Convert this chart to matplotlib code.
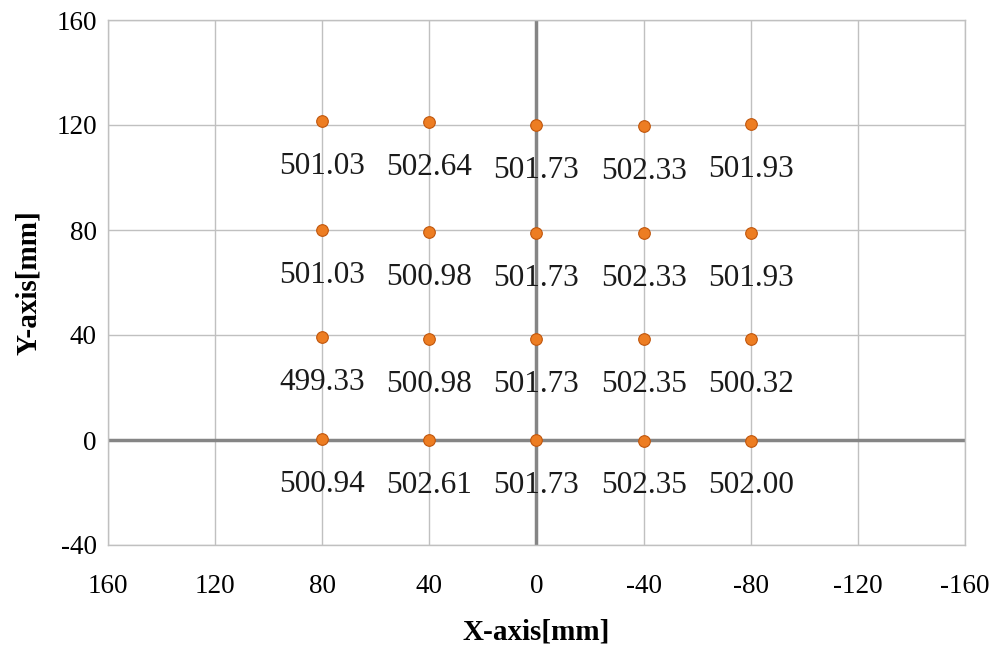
import matplotlib
matplotlib.use("Agg")
import matplotlib.pyplot as plt

# Measurement grid: positions (mm) and measured values
x_pos = [80, 40, 0, -40, -80]
row_y = {
    120: [121.5, 121.1, 120.0, 119.6, 120.4],
    80: [80.0, 79.2, 78.9, 78.9, 78.9],
    40: [39.2, 38.5, 38.5, 38.5, 38.5],
    0: [0.2, 0.0, 0.0, -0.3, -0.3],
}
row_values = {
    120: ["501.03", "502.64", "501.73", "502.33", "501.93"],
    80: ["501.03", "500.98", "501.73", "502.33", "501.93"],
    40: ["499.33", "500.98", "501.73", "502.35", "500.32"],
    0: ["500.94", "502.61", "501.73", "502.35", "502.00"],
}
x_ticks = [160, 120, 80, 40, 0, -40, -80, -120, -160]
y_ticks = [-40, 0, 40, 80, 120, 160]

plt.rcParams["font.family"] = ["Liberation Serif", "DejaVu Serif"]

fig = plt.figure(figsize=(10.03, 6.52), dpi=100)
ax = fig.add_axes([108 / 1003, 1 - 545 / 652, 857 / 1003, 525 / 652])

ax.set_xlim(160, -160)
ax.set_ylim(-40, 160)
ax.set_xticks(x_ticks)
ax.set_yticks(y_ticks)
ax.set_xticklabels([str(v) for v in x_ticks], fontsize=19.5)
ax.set_yticklabels([str(v) for v in y_ticks], fontsize=19.5)
ax.tick_params(length=0, pad=8)
ax.tick_params(axis="x", pad=21)

ax.grid(True, color="#c0c0c0", linewidth=1.0)
ax.set_axisbelow(True)
for s in ax.spines.values():
    s.set_color("#c0c0c0")
    s.set_linewidth(1.0)

# Main axes through the origin
ax.axhline(0, color="#858585", linewidth=2.5, zorder=1.5)
ax.axvline(0, color="#858585", linewidth=2.5, zorder=1.5)

for key in row_y:
    ys = row_y[key]
    ax.scatter(x_pos, ys, s=70, color="#ED7D22", edgecolors="#C0560C",
               linewidths=0.8, zorder=3)
    for xv, yv, lab in zip(x_pos, ys, row_values[key]):
        ax.annotate(lab, (xv, yv), xytext=(0, -32.5), textcoords="offset points",
                    ha="center", va="center", fontsize=22.5, color="#1a1a1a")

ax.set_xlabel("X-axis[mm]", fontsize=21, fontweight="bold", labelpad=14)
ax.set_ylabel("Y-axis[mm]", fontsize=21, fontweight="bold", labelpad=10)

fig.savefig("out.png", dpi=100)
